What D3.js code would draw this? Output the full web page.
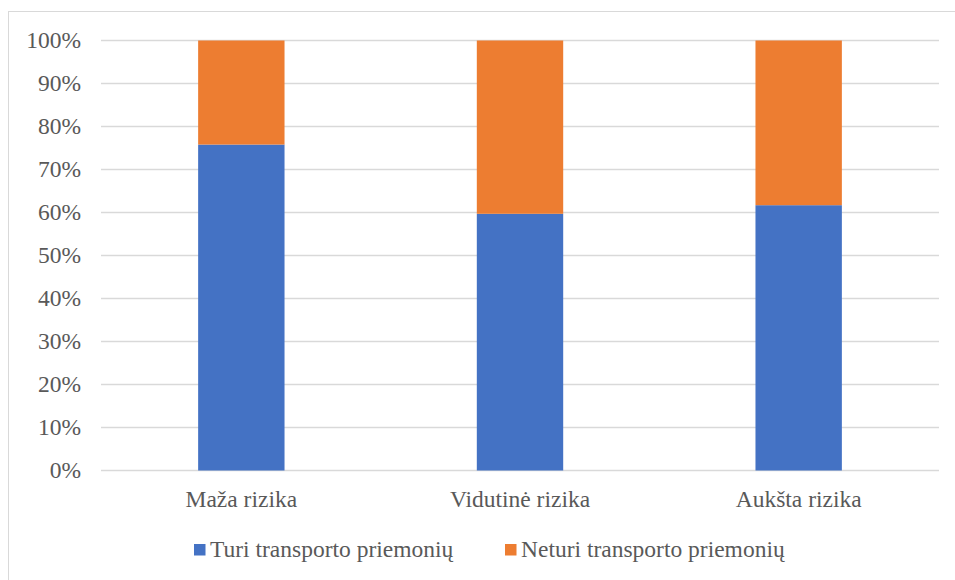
<!DOCTYPE html>
<html>
<head>
<meta charset="utf-8">
<script src="https://cdn.jsdelivr.net/npm/d3@7"></script>
<style>
  body { margin: 0; background: #fff; }
  svg { display: block; }
</style>
</head>
<body>
<svg id="chart" width="955" height="580"></svg>
<script>
// Risk groups and the share of respondents with / without a vehicle (%)
const categories = ["Maža rizika", "Vidutinė rizika", "Aukšta rizika"];
const seriesNames = ["Turi transporto priemonių", "Neturi transporto priemonių"];
const hasVehicle = [75.8, 59.7, 61.7];
const noVehicle = [24.2, 40.3, 38.3];
const colors = ["#4472c4", "#ed7d31"];
const yTicks = [0, 10, 20, 30, 40, 50, 60, 70, 80, 90, 100];

const FONT = '"Liberation Serif", "Times New Roman", serif';
const FONT_SIZE = "23.5px";
const textColor = "#595959";
const gridColor = "#d9d9d9";

const svg = d3.select("#chart");

// outer chart frame
svg.append("rect")
  .attr("x", 8.5).attr("y", 11.5)
  .attr("width", 970).attr("height", 600)
  .attr("fill", "none").attr("stroke", gridColor).attr("stroke-width", 1);

const plot = { left: 101, right: 939, top: 40.5, bottom: 470.5 };

const x = d3.scaleBand()
  .domain(categories)
  .range([plot.left + 1, plot.right - 1])
  .paddingInner(0.69)
  .paddingOuter(0.345);

const y = d3.scaleLinear()
  .domain([0, 100])
  .range([plot.bottom, plot.top]);

// horizontal gridlines
svg.append("g")
  .selectAll("line")
  .data(yTicks)
  .join("line")
  .attr("x1", plot.left).attr("x2", plot.right)
  .attr("y1", d => y(d)).attr("y2", d => y(d))
  .attr("stroke", gridColor).attr("stroke-width", 1.4);

// y axis labels
svg.append("g")
  .selectAll("text")
  .data(yTicks)
  .join("text")
  .attr("x", 81)
  .attr("y", d => y(d) + 7.5)
  .attr("text-anchor", "end")
  .attr("fill", textColor)
  .style("font-family", FONT)
  .style("font-size", FONT_SIZE)
  .text(d => d + "%");

// stacked bars
const rows = categories.map((c, i) => ({ cat: c, values: [hasVehicle[i], noVehicle[i]] }));
const stack = d3.stack().keys([0, 1]).value((d, k) => d.values[k]);
const layers = stack(rows);

svg.append("g")
  .selectAll("g")
  .data(layers)
  .join("g")
  .attr("fill", (d, i) => colors[i])
  .selectAll("rect")
  .data(d => d)
  .join("rect")
  .attr("x", d => x(d.data.cat))
  .attr("width", x.bandwidth())
  .attr("y", d => y(d[1]))
  .attr("height", d => y(d[0]) - y(d[1]));

// category labels
svg.append("g")
  .selectAll("text")
  .data(categories)
  .join("text")
  .attr("x", d => x(d) + x.bandwidth() / 2)
  .attr("y", 506.5)
  .attr("text-anchor", "middle")
  .attr("fill", textColor)
  .style("font-family", FONT)
  .style("font-size", FONT_SIZE)
  .text(d => d);

// legend
const legendItems = [
  { name: seriesNames[0], color: colors[0], x: 194 },
  { name: seriesNames[1], color: colors[1], x: 505 }
];
const lg = svg.append("g").selectAll("g").data(legendItems).join("g")
  .attr("transform", d => `translate(${d.x},544)`);
lg.append("rect").attr("width", 11.5).attr("height", 11.5).attr("fill", d => d.color);
lg.append("text")
  .attr("x", 16).attr("y", 13)
  .attr("fill", textColor)
  .style("font-family", FONT)
  .style("font-size", FONT_SIZE)
  .text(d => d.name);
</script>
</body>
</html>
